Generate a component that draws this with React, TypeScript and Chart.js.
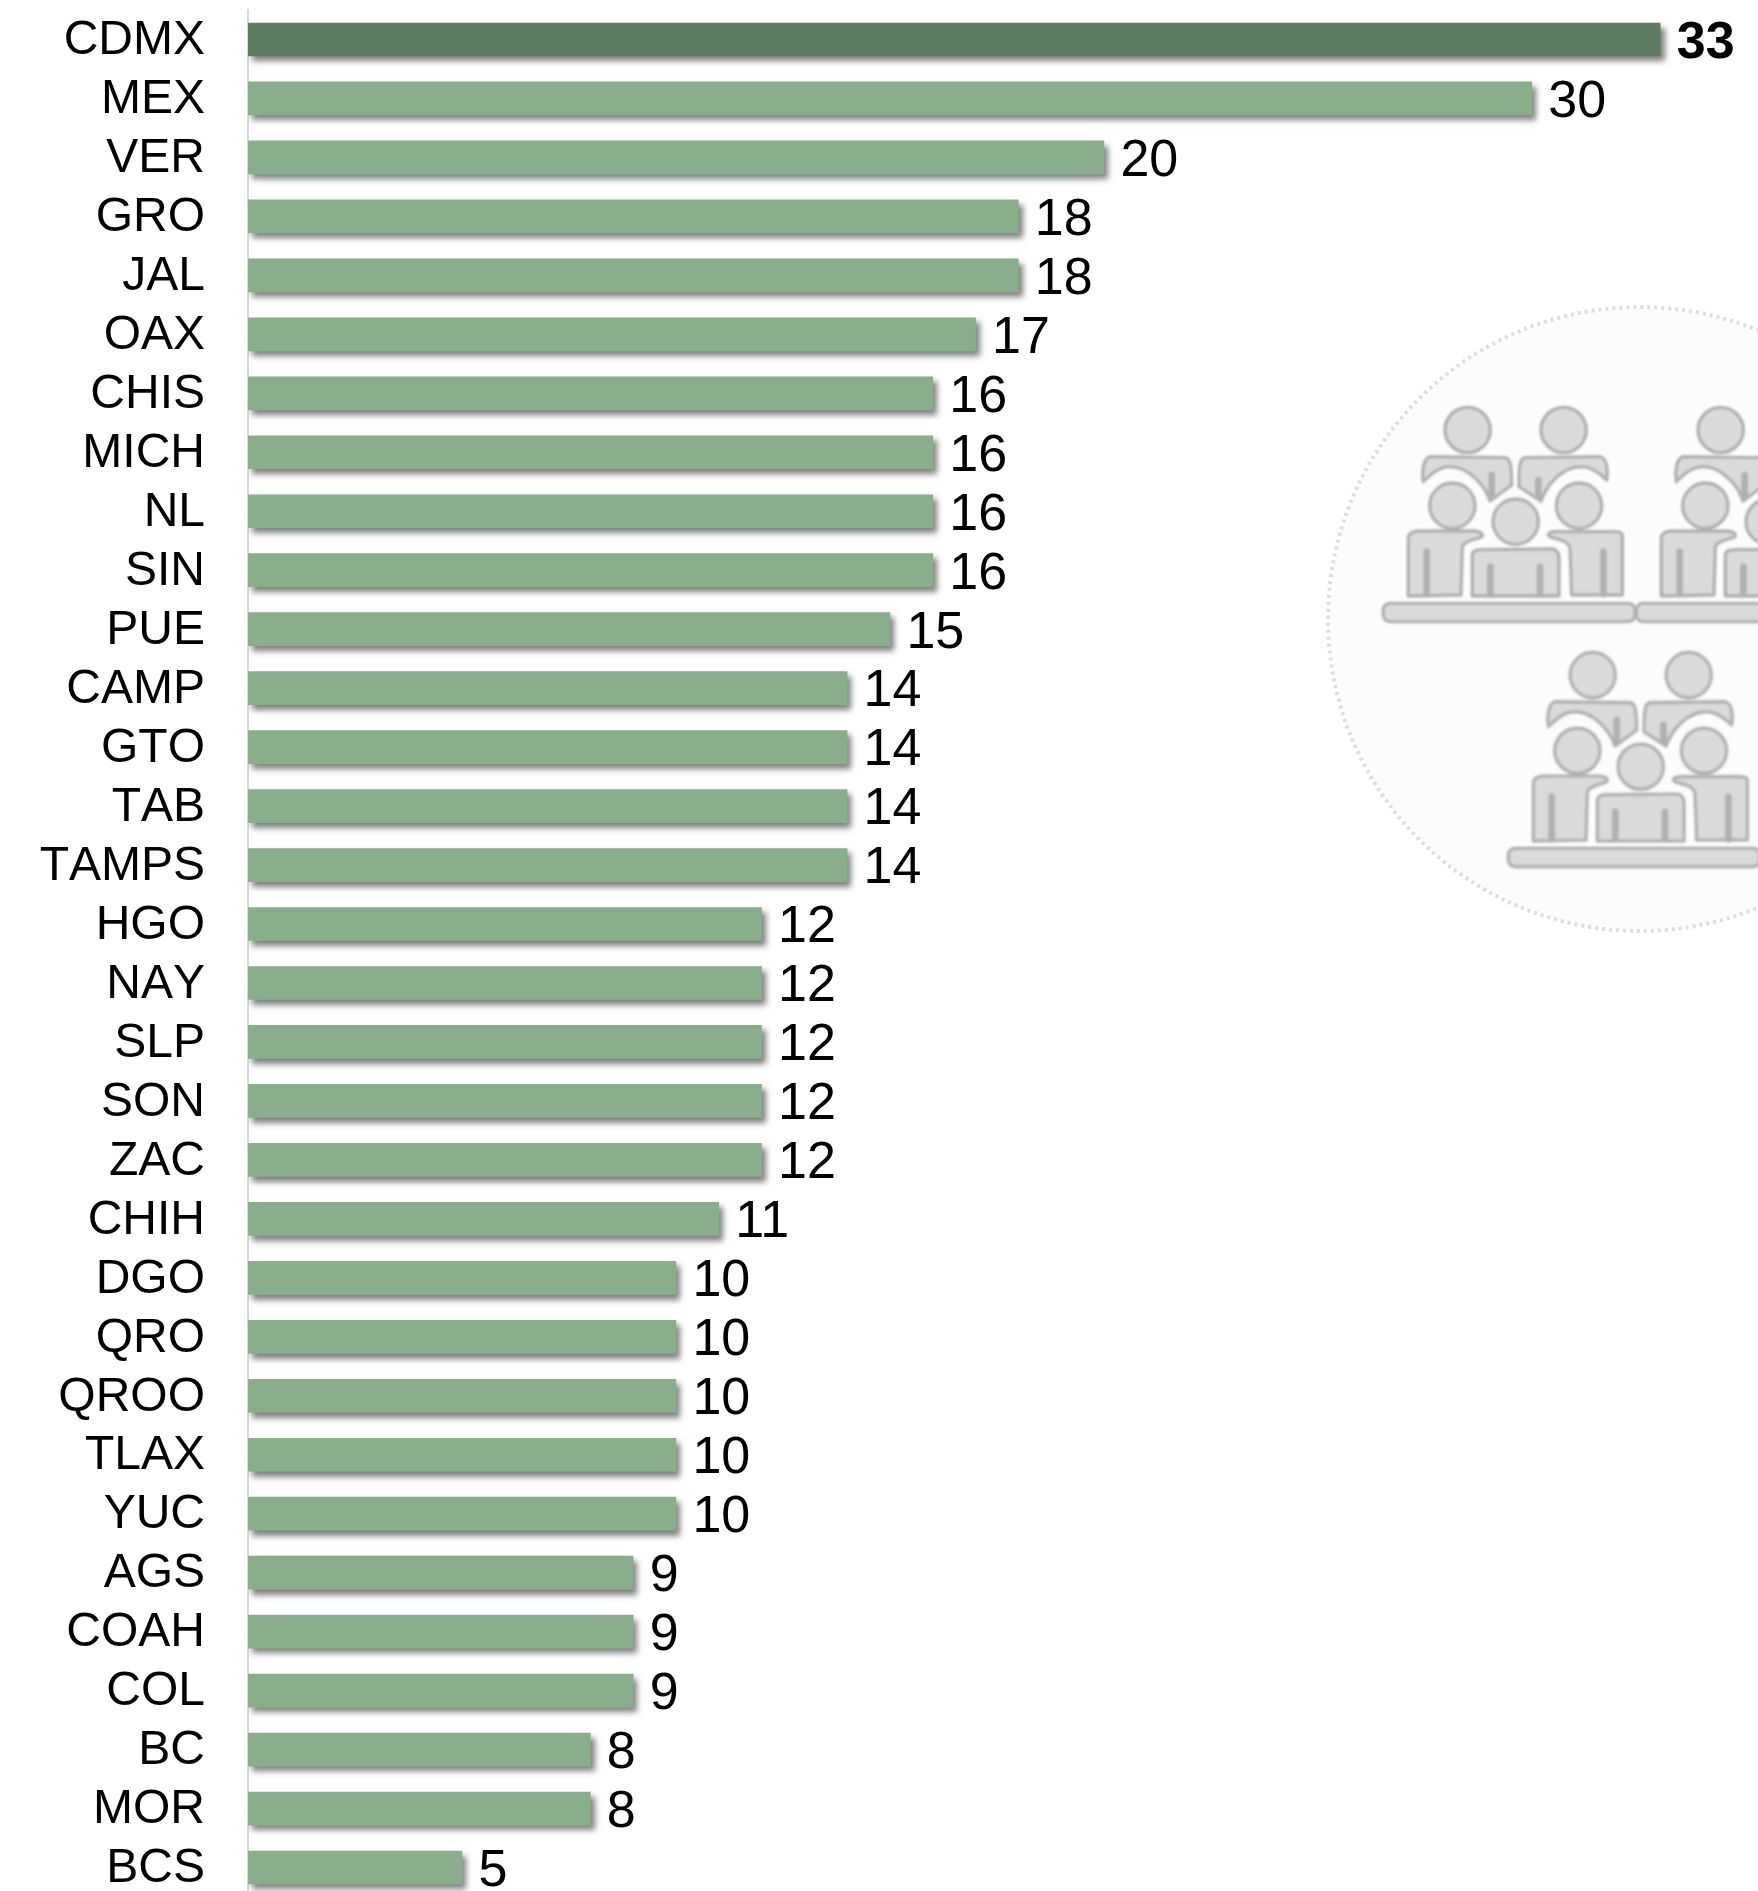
import React, { useEffect, useRef } from "react";
import { Chart, registerables } from "chart.js";

Chart.register(...registerables);

const categories = ["CDMX","MEX","VER","GRO","JAL","OAX","CHIS","MICH","NL","SIN","PUE","CAMP","GTO","TAB","TAMPS","HGO","NAY","SLP","SON","ZAC","CHIH","DGO","QRO","QROO","TLAX","YUC","AGS","COAH","COL","BC","MOR","BCS"];
const values = [33,30,20,18,18,17,16,16,16,16,15,14,14,14,14,12,12,12,12,12,11,10,10,10,10,10,9,9,9,8,8,5];
const highlighted = ["CDMX"];

const BAR = "#8AAE8C";
const BAR_DARK = "#5F7D62";
const FONT = "'Liberation Sans', Arial, sans-serif";

// Category labels: unkerned and nudged down slightly, as in the reference.
const tickLabelTweak = {
  id: "tickLabelTweak",
  afterLayout(chart: any) {
    const scale = chart.scales.y;
    if (scale.__tweaked) return;
    scale.__tweaked = true;
    const draw = scale.drawLabels.bind(scale);
    scale.drawLabels = (area: any) => {
      const c = chart.ctx;
      c.save();
      c.fontKerning = "none";
      c.translate(0, 1.5);
      draw(area);
      c.restore();
    };
  },
};

const barShadow = {
  id: "barShadow",
  beforeDatasetDraw(chart: any) {
    const c = chart.ctx;
    c.save();
    c.shadowColor = "rgba(0,0,0,0.5)";
    c.shadowBlur = 6;
    c.shadowOffsetX = 4;
    c.shadowOffsetY = 5;
  },
  afterDatasetDraw(chart: any) {
    chart.ctx.restore();
  },
};

const valueLabels = {
  id: "valueLabels",
  afterDatasetsDraw(chart: any) {
    const c = chart.ctx;
    const meta = chart.getDatasetMeta(0);
    c.save();
    c.fillStyle = "#000";
    c.textAlign = "left";
    c.textBaseline = "middle";
    meta.data.forEach((bar: any, i: number) => {
      const strong = highlighted.includes(categories[i]);
      c.font = `${strong ? "bold " : ""}52px ${FONT}`;
      c.fillText(String(values[i]), bar.x + 16.5, bar.y + 4);
    });
    c.restore();
  },
};

function Group({ x, y }: { x: number; y: number }) {
  const s = { fill: "#DADADA", stroke: "#B0B0B0", strokeWidth: 10, strokeLinejoin: "round" as const };
  const bar = { stroke: "#B0B0B0", strokeWidth: 20, strokeLinecap: "round" as const, fill: "none" };
  return (
    <g transform={`translate(${x} ${y}) scale(${1 / 3})`}>
      <circle cx={278} cy={105} r={68} {...s} />
      <circle cx={566} cy={105} r={68} {...s} />
      <path d="M145,260 C140,230 145,190 165,185 L390,188 C405,190 410,210 410,270 L345,318 C330,270 280,215 225,215 C190,215 165,240 145,260 Z" {...s} />
      <path d="M695,255 C700,225 695,190 675,185 L450,188 C435,190 432,210 432,275 L498,318 C515,270 560,215 620,215 C650,215 675,235 695,255 Z" {...s} />
      <circle cx={232} cy={332} r={68} {...s} />
      <circle cx={612} cy={332} r={68} {...s} />
      <circle cx={422} cy={380} r={68} {...s} />
      <path d="M100,603 L100,430 C100,415 115,408 130,408 L300,408 C320,410 325,420 320,425 C300,435 270,435 262,455 L258,600 Z" {...s} />
      <path d="M742,600 L742,420 C742,412 730,410 715,410 L540,410 C520,412 515,418 525,425 C550,435 580,435 585,460 L590,600 Z" {...s} />
      <path d="M292,603 L292,480 C292,468 305,464 320,464 L530,462 C548,462 552,480 552,490 L552,603 Z" {...s} />
      <path d="M155,470 L155,598 M346,515 L346,598 M495,515 L495,598 M685,470 L685,598 M350,240 L350,305 M490,255 L490,305" {...bar} />
      <rect x={25} y={625} width={755} height={55} rx={20} {...s} />
    </g>
  );
}

export default function App() {
  const ref = useRef<HTMLCanvasElement>(null);
  useEffect(() => {
    const chart = new Chart(ref.current as HTMLCanvasElement, {
      type: "bar",
      data: {
        labels: categories,
        datasets: [
          {
            data: values,
            backgroundColor: categories.map((c) => (highlighted.includes(c) ? BAR_DARK : BAR)),
            barThickness: 33,
            borderWidth: 0,
          },
        ],
      },
      options: {
        indexAxis: "y",
        animation: false,
        responsive: false,
        devicePixelRatio: 1,
        layout: { padding: { top: 10, bottom: 13, right: 55, left: 0 } },
        plugins: { legend: { display: false }, tooltip: { enabled: false }, title: { display: false } },
        scales: {
          x: { display: false, min: 0, max: 34, grid: { display: false } },
          y: {
            afterFit(scale: any) {
              scale.width = 248;
              scale.paddingTop = 0;
              scale.paddingBottom = 0;
            },
            grid: { display: false, drawTicks: false },
            border: { display: true, color: "#D9D9D9", width: 2 },
            ticks: { color: "#000", padding: 43, autoSkip: false, font: { size: 48, family: FONT } },
          },
        },
      },
      plugins: [tickLabelTweak, barShadow, valueLabels],
    } as any);
    return () => chart.destroy();
  }, []);
  return (
    <div style={{ position: "absolute", left: 0, top: 0, width: 1758, height: 1891, overflow: "hidden", background: "#fff" }}>
      <svg width={1758} height={1891} style={{ position: "absolute", left: 0, top: 0 }}>
        <defs>
          <filter id="soft" x="-5%" y="-5%" width="110%" height="110%">
            <feGaussianBlur stdDeviation="0.8" />
          </filter>
        </defs>
        <circle cx={1640} cy={619} r={312} fill="#FCFCFC" stroke="#DDDDDD" strokeWidth={4} strokeDasharray="3 4" />
        <g filter="url(#soft)">
          <Group x={1375} y={395} />
          <Group x={1628} y={395} />
          <Group x={1500} y={640} />
        </g>
      </svg>
      <canvas ref={ref} width={1758} height={1910} style={{ position: "absolute", left: 0, top: 0, width: 1758, height: 1910 }} />
    </div>
  );
}
